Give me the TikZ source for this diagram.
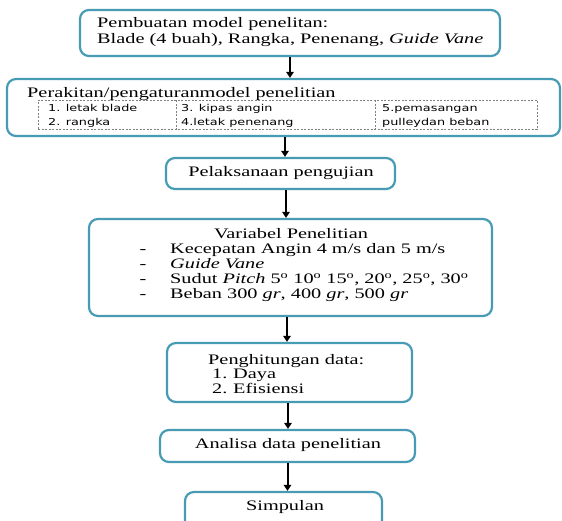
\documentclass[tikz,border=0pt]{standalone}
\usepackage{fontspec}
\setmainfont{Liberation Serif}[
  UprightFont={Liberation Serif},
  ItalicFont={Liberation Serif Italic},
  BoldFont={Liberation Serif Bold},
  FakeStretch=1.4]
\newfontfamily\tabfont{DejaVu Sans}[FakeStretch=1.35]
\usetikzlibrary{arrows.meta}
\definecolor{boxblue}{RGB}{72,155,180}
\tikzset{
  box/.style={draw=boxblue, line width=2.2pt, rounded corners=9pt, fill=white, inner sep=0pt},
  flow/.style={line width=2pt, -{Triangle[length=6pt,width=7.5pt]}},
  txt/.style={inner sep=0pt, font=\fontsize{14.5}{15}\selectfont},
  small/.style={inner sep=0pt, font=\tabfont\fontsize{9.5}{12}\selectfont, anchor=base west},
  tabline/.style={draw=gray, dashed, line width=0.5pt, dash pattern=on 2pt off 1.5pt},
}
\begin{document}
\begin{tikzpicture}[x=1pt,y=-1pt]
\useasboundingbox (0,0) rectangle (562,521);
\clip (0,0) rectangle (562,521);
\fill[white] (0,0) rectangle (562,521);

% box 1
\node[box, minimum width=420pt, minimum height=46pt] (b1) at (290,33) {};
\node[txt, anchor=base west] (t1a) at (97,28) {Pembuatan model penelitan:};
\node[txt, anchor=base west] (t1b) at (97,44) {Blade (4 buah), Rangka, Penenang, \textit{Guide Vane}};

% box 2
\node[box, minimum width=553pt, minimum height=57pt] (b2) at (283.5,107.5) {};
\node[txt, anchor=base west] (t2) at (27,98) {Perakitan/pengaturanmodel penelitian};
\node[tabline, draw, minimum width=499pt, minimum height=29pt, inner sep=0pt] (tab) at (287.5,115) {};
\draw[tabline] (176,100.5) -- (176,129.5);
\draw[tabline] (375,100.5) -- (375,129.5);
\node[small] (s1) at (48,111.5) {1. letak blade};
\node[small] (s2) at (48,126) {2. rangka};
\node[small] (s3) at (181,111.5) {3. kipas angin};
\node[small] (s4) at (181,126) {4.letak penenang};
\node[small] (s5) at (382,111.5) {5.pemasangan};
\node[small] (s6) at (382,126) {pulleydan beban};

% box 3
\node[box, minimum width=229pt, minimum height=31pt] (b3) at (280.5,173.5) {};
\node[txt] (t3) at (281,173) {Pelaksanaan pengujian};

% box 4
\node[box, minimum width=403pt, minimum height=97pt] (b4) at (290.5,267.5) {};
\node[txt, anchor=base] (t4) at (291,238.5) {Variabel Penelitian};
\node[txt, anchor=base] (d1) at (143,253.5) {-};
\node[txt, anchor=base] (d2) at (143,268.5) {-};
\node[txt, anchor=base] (d3) at (143,283.5) {-};
\node[txt, anchor=base] (d4) at (143,298.5) {-};
\node[txt, anchor=base west] (l1) at (170,253.5) {Kecepatan Angin 4 m/s dan 5 m/s};
\node[txt, anchor=base west] (l2) at (170,268.5) {\textit{Guide Vane}};
\node[txt, anchor=base west] (l3) at (170,283.5) {Sudut \textit{Pitch} 5\textsuperscript{o} 10\textsuperscript{o} 15\textsuperscript{o}, 20\textsuperscript{o}, 25\textsuperscript{o}, 30\textsuperscript{o}};
\node[txt, anchor=base west] (l4) at (170,298.5) {Beban 300 \textit{gr}, 400 \textit{gr}, 500 \textit{gr}};

% box 5
\node[box, minimum width=245pt, minimum height=59pt] (b5) at (289.5,372.5) {};
\node[txt, anchor=base west] (t5) at (208,364) {Penghitungan data:};
\node[txt, anchor=base west] (n1) at (212,378.5) {1.};
\node[txt, anchor=base west] (e1) at (233,378.5) {Daya};
\node[txt, anchor=base west] (n2) at (212,393) {2.};
\node[txt, anchor=base west] (e2) at (233,393) {Efisiensi};

% box 6
\node[box, minimum width=255pt, minimum height=32pt] (b6) at (287.5,446) {};
\node[txt] (t6) at (288,445) {Analisa data penelitian};

% box 7
\node[box, minimum width=197pt, minimum height=43pt] (b7) at (283.5,513.5) {};
\node[txt] (t7) at (285,507) {Simpulan};

% arrows
\draw[flow] (b1.south) -- (b1.south |- b2.north);
\draw[flow] ([xshift=4.5pt]b3.north |- b2.south) -- ([xshift=4.5pt]b3.north);
\draw[flow] ([xshift=5.5pt]b3.south) -- ([xshift=5.5pt]b3.south |- b4.north);
\draw[flow] ([xshift=-2.5pt]b5.north |- b4.south) -- ([xshift=-2.5pt]b5.north);
\draw[flow] ([xshift=-1.5pt]b5.south) -- ([xshift=-1.5pt]b5.south |- b6.north);
\draw[flow] (b6.south) -- (b6.south |- b7.north);
\end{tikzpicture}
\end{document}
